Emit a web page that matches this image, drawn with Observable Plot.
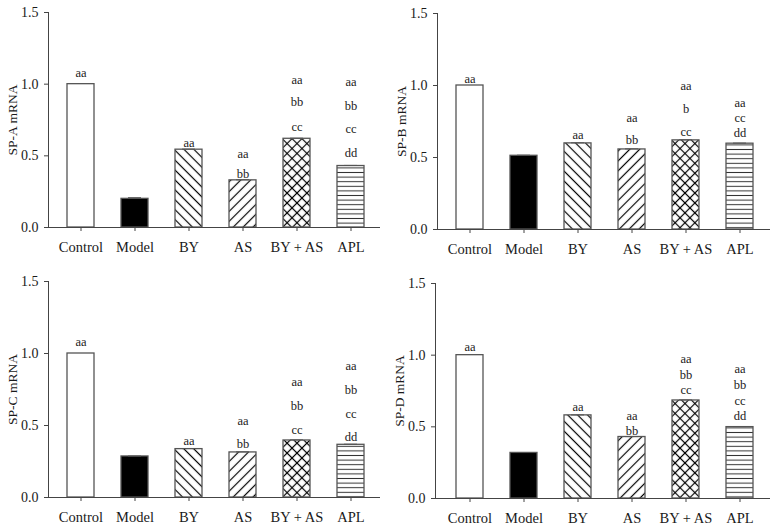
<!DOCTYPE html>
<html>
<head>
<meta charset="utf-8">
<script src="https://cdn.jsdelivr.net/npm/d3@7"></script>
<script src="https://cdn.jsdelivr.net/npm/@observablehq/plot@0.6"></script>
<style>
  html, body { margin: 0; padding: 0; background: #fff; }
  #wrap { position: relative; width: 776px; height: 527px; overflow: hidden; background: #fff; }
  .panel { position: absolute; }
  .panel svg text { fill: #1a1a1a; }
  #defs { position: absolute; width: 0; height: 0; }
</style>
</head>
<body>
<svg id="defs" width="0" height="0">
  <defs>
    <pattern id="pBack" patternUnits="userSpaceOnUse" width="7" height="7" patternTransform="rotate(-45)">
      <rect width="7" height="7" fill="#fff"/>
      <line x1="3.5" y1="0" x2="3.5" y2="7" stroke="#000" stroke-width="1.2"/>
    </pattern>
    <pattern id="pFwd" patternUnits="userSpaceOnUse" width="7" height="7" patternTransform="rotate(45)">
      <rect width="7" height="7" fill="#fff"/>
      <line x1="3.5" y1="0" x2="3.5" y2="7" stroke="#000" stroke-width="1.2"/>
    </pattern>
    <pattern id="pCross" patternUnits="userSpaceOnUse" width="7" height="7" patternTransform="rotate(45)">
      <rect width="7" height="7" fill="#fff"/>
      <line x1="3.5" y1="0" x2="3.5" y2="7" stroke="#000" stroke-width="1.2"/>
      <line x1="0" y1="3.5" x2="7" y2="3.5" stroke="#000" stroke-width="1.2"/>
    </pattern>
    <pattern id="pHoriz" patternUnits="userSpaceOnUse" width="8" height="4.6">
      <rect width="8" height="4.6" fill="#fff"/>
      <line x1="0" y1="2.3" x2="8" y2="2.3" stroke="#333" stroke-width="1"/>
    </pattern>
  </defs>
</svg>
<div id="wrap"></div>
<script>
// ---- data ----
const groups = ["Control", "Model", "BY", "AS", "BY + AS", "APL"];
const groupFills = ["#ffffff", "#000000", "url(#pBack)", "url(#pFwd)", "url(#pCross)", "url(#pHoriz)"];
const yTicks = [0, 0.5, 1.0, 1.5];

const spA = [1.0, 0.20, 0.543, 0.329, 0.619, 0.429];
const spAErr = [0, 0.008, 0.004, 0.004, 0.004, 0.004];
const spB = [1.0, 0.512, 0.598, 0.556, 0.619, 0.596];
const spBErr = [0, 0.004, 0.004, 0.004, 0.004, 0.004];
const spC = [1.0, 0.285, 0.336, 0.313, 0.396, 0.366];
const spCErr = [0, 0.003, 0.004, 0.004, 0.004, 0.004];
const spD = [1.0, 0.318, 0.580, 0.429, 0.684, 0.498];
const spDErr = [0, 0.003, 0.003, 0.003, 0.004, 0.004];

// significance letters: [group, text, y (data units)]
const spALetters = [["Control","aa",1.076],["BY","aa",0.591],["AS","aa",0.51],["AS","bb",0.376],
  ["BY + AS","aa",1.032],["BY + AS","bb",0.879],["BY + AS","cc",0.70],
  ["APL","aa",1.013],["APL","bb",0.849],["APL","cc",0.684],["APL","dd",0.522]];
const spBLetters = [["Control","aa",1.045],["BY","aa",0.656],["AS","aa",0.777],["AS","bb",0.619],
  ["BY + AS","aa",1.0],["BY + AS","b",0.839],["BY + AS","cc",0.677],
  ["APL","aa",0.878],["APL","cc",0.777],["APL","dd",0.668]];
const spCLetters = [["Control","aa",1.081],["BY","aa",0.394],["AS","aa",0.528],["AS","bb",0.37],
  ["BY + AS","aa",0.799],["BY + AS","bb",0.632],["BY + AS","cc",0.472],
  ["APL","aa",0.91],["APL","bb",0.748],["APL","cc",0.583],["APL","dd",0.421]];
const spDLetters = [["Control","aa",1.055],["BY","aa",0.638],["AS","aa",0.575],["AS","bb",0.474],
  ["BY + AS","aa",0.974],["BY + AS","bb",0.862],["BY + AS","cc",0.754],
  ["APL","aa",0.906],["APL","bb",0.793],["APL","cc",0.683],["APL","dd",0.573]];

const panels = [
  {label: "SP-A mRNA", values: spA, err: spAErr, letters: spALetters, left: 0,   top: 0,   w: 388, h: 260, mL: 48, mT: 12, mB: 33, mR: 8},
  {label: "SP-B mRNA", values: spB, err: spBErr, letters: spBLetters, left: 388, top: 0,   w: 388, h: 260, mL: 49, mT: 13, mB: 31, mR: 6},
  {label: "SP-C mRNA", values: spC, err: spCErr, letters: spCLetters, left: 0,   top: 260, w: 388, h: 267, mL: 48, mT: 21, mB: 30, mR: 8},
  {label: "SP-D mRNA", values: spD, err: spDErr, letters: spDLetters, left: 388, top: 260, w: 388, h: 267, mL: 47, mT: 23, mB: 29, mR: 6}
];

const FONT = "'Liberation Serif', 'DejaVu Serif', serif";
const wrap = document.getElementById("wrap");

for (const p of panels) {
  const rows = groups.map((g, i) => ({group: g, value: p.values[i], err: p.err[i], fill: groupFills[i]}));
  const letters = p.letters.map(([group, text, y]) => ({group, text, y}));
  const chart = Plot.plot({
    width: p.w,
    height: p.h,
    marginLeft: p.mL,
    marginTop: p.mT,
    marginBottom: p.mB,
    marginRight: p.mR,
    style: {fontFamily: FONT, fontSize: "14.5px", color: "#1a1a1a", background: "#fff"},
    x: {domain: groups, paddingInner: 0.5, paddingOuter: 0.32, align: 0.54, label: null},
    y: {domain: [0, 1.5], label: null},
    color: {type: "identity"},
    marks: [
      Plot.barY(rows, {x: "group", y: "value", fill: "fill", stroke: "#555", strokeWidth: 1.3}),
      Plot.tickY(rows.filter(d => d.err > 0), {x: "group", y: d => d.value + d.err, stroke: "#555", strokeWidth: 1, insetLeft: 7, insetRight: 7}),
      Plot.text(letters, {x: "group", y: "y", text: "text", fontSize: 12.5, fontFamily: FONT, fill: "black", lineAnchor: "middle"}),
      Plot.ruleY([0], {stroke: "#444", strokeWidth: 1}),
      Plot.frame({anchor: "left", stroke: "#444", strokeWidth: 1}),
      Plot.axisX({tickSize: 4, tickPadding: 10, stroke: "#444", fontSize: 14.5}),
      Plot.axisY({ticks: yTicks, tickFormat: d3.format(".1f"), tickSize: 4, tickPadding: 6, stroke: "#444", fontSize: 14,
        label: p.label, labelAnchor: "center", labelArrow: "none", labelOffset: 41})
    ]
  });
  // enlarge the y-axis title slightly
  chart.querySelectorAll("text").forEach(t => {
    if (t.textContent === p.label) t.setAttribute("font-size", 13.5);
  });
  const div = document.createElement("div");
  div.className = "panel";
  div.style.left = p.left + "px";
  div.style.top = p.top + "px";
  div.appendChild(chart);
  wrap.appendChild(div);
}
</script>
</body>
</html>
